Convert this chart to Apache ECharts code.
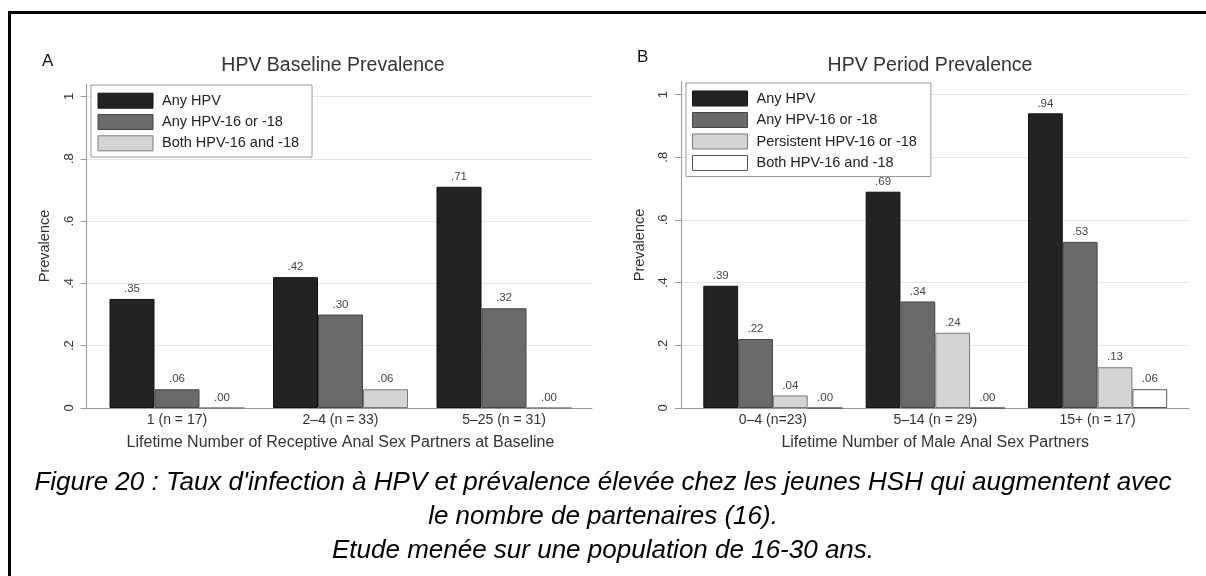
<!DOCTYPE html>
<html><head><meta charset="utf-8">
<script src="https://cdn.jsdelivr.net/npm/echarts@6/dist/echarts.min.js"></script>
<style>html,body{margin:0;padding:0;background:#fff}#c{width:1206px;height:576px}</style>
</head><body><div id="c"></div>
<script>
// ---- data ----
const categoriesA = ['1 (n = 17)', '2–4 (n = 33)', '5–25 (n = 31)'];
const anyHpvA = [0.35, 0.42, 0.71];
const hpv1618A = [0.06, 0.30, 0.32];
const both1618A = [0.00, 0.06, 0.00];

const categoriesB = ['0–4 (n=23)', '5–14 (n = 29)', '15+ (n = 17)'];
const anyHpvB = [0.39, 0.69, 0.94];
const hpv1618B = [0.22, 0.34, 0.53];
const persistentB = [0.04, 0.24, 0.13];
const both1618B = [0.00, 0.00, 0.06];

const yTicks = [0, 0.2, 0.4, 0.6, 0.8, 1];
const namesA = ['Any HPV', 'Any HPV-16 or -18', 'Both HPV-16 and -18'];
const namesB = ['Any HPV', 'Any HPV-16 or -18', 'Persistent HPV-16 or -18', 'Both HPV-16 and -18'];

// ---- styles ----
const FONT = 'Liberation Sans, Arial, Helvetica, sans-serif';
const C_BLACK = '#232323', C_DARK = '#6a6a6a', C_LIGHT = '#d4d4d4', C_WHITE = '#ffffff';
const B_BLACK = '#111', B_DARK = '#444', B_LIGHT = '#7a7a7a', B_WHITE = '#555';
const fmtVal = v => v.toFixed(2).replace(/^0/, '');
const fmtTick = v => { const n = Number(v.toFixed(2)); return n === 0 ? '0' : n === 1 ? '1' : (n > 1 ? '' : String(n).replace(/^0/, '')); };
const barLabel = { show: true, position: 'top', distance: 4, fontSize: 11.5, color: '#444', formatter: p => fmtVal(p.value) };

function frameY(gi) {
  return {
    gridIndex: gi, type: 'value', min: 0, max: 1.04, interval: 0.2,
    axisLine: { show: true, lineStyle: { color: '#9a9a9a', width: 1 } },
    axisTick: { show: true, length: 6, customValues: yTicks, lineStyle: { color: '#9a9a9a' } },
    axisLabel: { rotate: 90, margin: 11, fontSize: 13, color: '#333', formatter: fmtTick, customValues: yTicks },
    splitLine: { show: true, lineStyle: { color: ['#e6e6e6', '#e6e6e6', '#e6e6e6', '#e6e6e6', '#e6e6e6', '#e6e6e6', 'rgba(0,0,0,0)'], width: 1 } },
    name: 'Prevalence', nameLocation: 'middle', nameGap: 34,
    nameTextStyle: { fontSize: 14.5, color: '#333' }
  };
}
function frameX(gi) {
  return {
    gridIndex: gi, type: 'value', min: 0, max: 1,
    axisLine: { show: true, onZero: false, lineStyle: { color: '#9a9a9a', width: 1 } },
    axisTick: { show: false }, axisLabel: { show: false }, splitLine: { show: false }
  };
}
function barsX(gi, cats, title) {
  return {
    gridIndex: gi, type: 'category', data: cats,
    axisLine: { show: false }, axisTick: { show: false },
    axisLabel: { fontSize: 14, color: '#333', margin: 5 },
    name: title, nameLocation: 'middle', nameGap: 27,
    nameTextStyle: { fontSize: 16, color: '#333' }
  };
}
function barsY(gi) { return { gridIndex: gi, type: 'value', min: 0, max: 1.04, show: false }; }

function bar(name, data, xi, color, border, width) {
  return {
    type: 'bar', name, data, xAxisIndex: xi, yAxisIndex: xi,
    barWidth: width, barGap: '0%',
    itemStyle: { color, borderColor: border, borderWidth: 1 },
    label: barLabel
  };
}
function legItem(name, color, border) {
  return { name, itemStyle: { color, borderColor: border, borderWidth: 1 } };
}
const legendText = { fontSize: 14.5, color: '#222', lineHeight: 15, padding: [0, 0, 0, 4] };

const option = {
  animation: false,
  backgroundColor: '#fff',
  textStyle: { fontFamily: FONT },
  title: [
    { text: 'A', left: 42, top: 53, padding: 0, textStyle: { fontSize: 17, fontWeight: 'normal', color: '#111', fontFamily: FONT } },
    { text: 'B', left: 637, top: 49, padding: 0, textStyle: { fontSize: 17, fontWeight: 'normal', color: '#111', fontFamily: FONT } },
    { text: 'HPV Baseline Prevalence', left: 333, textAlign: 'center', top: 56, padding: 0, textStyle: { fontSize: 19.5, fontWeight: 'normal', color: '#333', fontFamily: FONT } },
    { text: 'HPV Period Prevalence', left: 930, textAlign: 'center', top: 56, padding: 0, textStyle: { fontSize: 19.5, fontWeight: 'normal', color: '#333', fontFamily: FONT } },
    { text: "Figure 20 : Taux d'infection à HPV et prévalence élevée chez les jeunes HSH qui augmentent avec", left: 'center', top: 470, padding: 0, textStyle: { fontSize: 26, fontStyle: 'italic', fontWeight: 'normal', color: '#000', fontFamily: FONT } },
    { text: 'le nombre de partenaires (16).', left: 'center', top: 504, padding: 0, textStyle: { fontSize: 26, fontStyle: 'italic', fontWeight: 'normal', color: '#000', fontFamily: FONT } },
    { text: 'Etude menée sur une population de 16-30 ans.', left: 'center', top: 538, padding: 0, textStyle: { fontSize: 26, fontStyle: 'italic', fontWeight: 'normal', color: '#000', fontFamily: FONT } }
  ],
  legend: [
    {
      left: 91, top: 85, orient: 'vertical', icon: 'rect', selectedMode: false,
      itemWidth: 55, itemHeight: 15, itemGap: 5.3,
      padding: [7.7, 13, 5.7, 6.5],
      backgroundColor: '#fff', borderColor: '#9a9a9a', borderWidth: 1,
      textStyle: legendText,
      data: [legItem(namesA[0], C_BLACK, B_BLACK), legItem(namesA[1], C_DARK, B_DARK), legItem(namesA[2], C_LIGHT, B_LIGHT)]
    },
    {
      left: 686, top: 83, orient: 'vertical', icon: 'rect', selectedMode: false,
      itemWidth: 55, itemHeight: 15, itemGap: 5.5,
      padding: [7.5, 14, 5.5, 6],
      backgroundColor: '#fff', borderColor: '#9a9a9a', borderWidth: 1,
      textStyle: legendText,
      data: [legItem(namesB[0], C_BLACK, B_BLACK), legItem(namesB[1], C_DARK, B_DARK), legItem(namesB[2], C_LIGHT, B_LIGHT), legItem(namesB[3], C_WHITE, B_WHITE)]
    }
  ],
  grid: [
    { left: 86.5, top: 84, width: 505.5, height: 324 },
    { left: 95.25, top: 84, width: 490.5, height: 324 },
    { left: 681, top: 82, width: 508, height: 326 },
    { left: 691.75, top: 82, width: 487, height: 326 }
  ],
  xAxis: [
    frameX(0),
    barsX(1, categoriesA, 'Lifetime Number of Receptive Anal Sex Partners at Baseline'),
    frameX(2),
    barsX(3, categoriesB, 'Lifetime Number of Male Anal Sex Partners')
  ],
  yAxis: [frameY(0), barsY(1), frameY(2), barsY(3)],
  series: [
    bar(namesA[0], anyHpvA, 1, C_BLACK, B_BLACK, 45),
    bar(namesA[1], hpv1618A, 1, C_DARK, B_DARK, 45),
    bar(namesA[2], both1618A, 1, C_LIGHT, B_LIGHT, 45),
    bar(namesB[0], anyHpvB, 3, C_BLACK, B_BLACK, 34.8),
    bar(namesB[1], hpv1618B, 3, C_DARK, B_DARK, 34.8),
    bar(namesB[2], persistentB, 3, C_LIGHT, B_LIGHT, 34.8),
    bar(namesB[3], both1618B, 3, C_WHITE, B_WHITE, 34.8)
  ],
  graphic: [
    { type: 'rect', silent: true, z: 100, shape: { x: 9.5, y: 12.5, width: 1400, height: 1000 }, style: { fill: 'none', stroke: '#000', lineWidth: 3 } }
  ]
};
const chart = echarts.init(document.getElementById('c'), null, { renderer: 'canvas' });
chart.setOption(option);
</script>
</body></html>
